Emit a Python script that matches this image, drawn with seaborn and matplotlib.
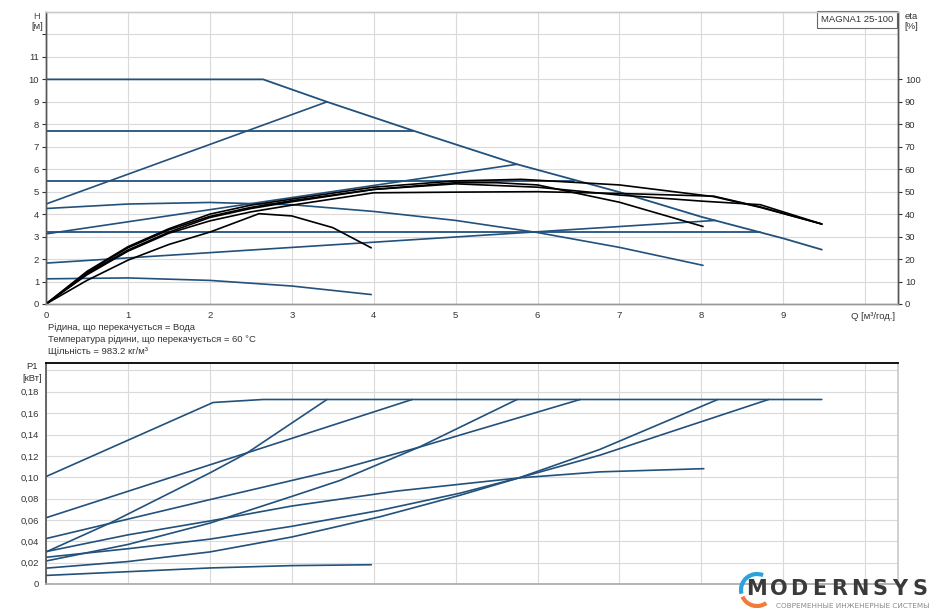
import seaborn as sns
import matplotlib.pyplot as plt
from matplotlib.patches import Arc
from matplotlib.transforms import blended_transform_factory

# ---- head curves, Q [m3/h] vs H [m] ----
MAX_Q = [0, 2.65, 3.43, 4.48, 5.75, 7.0, 8.0, 9.0, 9.47]
MAX_H = [10, 10, 9.0, 7.72, 6.22, 4.98, 3.88, 2.92, 2.42]

CONST_Q = [[0, 4.48], [0, 6.45], [0, 8.72]]
CONST_H = [[7.7, 7.7], [5.47, 5.47], [3.2, 3.2]]

PROP_Q = [[0, 3.43], [0, 5.75], [0, 8.17]]
PROP_H = [[4.45, 9.0], [3.12, 6.22], [1.82, 3.72]]

FIX_HI_Q = [0, 1, 2, 3, 4, 5, 6, 7, 8.02]
FIX_HI_H = [4.25, 4.45, 4.52, 4.42, 4.12, 3.72, 3.18, 2.52, 1.72]
FIX_LO_Q = [0, 1, 2, 3, 3.97]
FIX_LO_H = [1.12, 1.16, 1.05, 0.8, 0.42]

# ---- efficiency curves, eta [%] ----
ETA_Q = [
    [0, 0.5, 1, 1.5, 2, 2.6, 3, 3.5, 3.97],
    [0, 0.5, 1, 1.5, 2, 2.5, 3, 4, 5, 5.5, 6, 7, 8.02],
    [0, 0.5, 1, 1.5, 2, 2.5, 3, 4, 5, 5.8, 7, 8.15, 8.72, 9.47],
    [0, 0.5, 1, 1.5, 2, 2.5, 3, 4, 5, 6, 7, 8.15, 8.72, 9.47],
    [0, 0.5, 1, 1.5, 2, 2.5, 3, 4, 5, 6, 7, 8, 8.72, 9.47],
]
ETA_V = [
    [0, 10.5, 19.5, 26.5, 32, 40.2, 39.2, 34, 25],
    [0, 13.5, 24, 32, 38.5, 42.5, 45.5, 51, 54, 54, 53, 45.3, 34.5],
    [0, 14.5, 25.5, 33.5, 40, 44, 46.7, 52, 54.8, 55.5, 53, 47.8, 43, 35.6],
    [0, 13, 23.5, 31.5, 37, 41, 44, 49.5, 49.8, 50, 49.2, 48, 43.2, 35.6],
    [0, 14, 25, 33, 39, 43, 46, 51, 53.5, 52, 48.5, 45.8, 44.2, 35.6],
]

# ---- power curves, P1 [kW] ----
P_Q = [
    [0, 2.04, 2.65, 9.47],
    [0, 0.78, 2, 2.45, 3.43],
    [0, 4.47],
    [0, 1, 2, 3, 3.59, 4.55, 5.75],
    [0, 2, 3.59, 4.55, 6.52],
    [0, 1, 2, 3, 4.28, 5.05, 5.77, 6.76, 8.03],
    [0, 1, 2, 3, 4.08, 5.05, 5.77, 6.76, 8.2],
    [0, 1, 2, 3, 4.08, 5.05, 5.77, 6.76, 8.82],
    [0, 1, 2, 3, 3.97],
]
P_V = [
    [0.1006, 0.170, 0.1728, 0.1728],
    [0.030, 0.057, 0.104, 0.1225, 0.1728],
    [0.062, 0.1728],
    [0.0215, 0.037, 0.057, 0.082, 0.097, 0.128, 0.1728],
    [0.0425, 0.079, 0.1075, 0.128, 0.1728],
    [0.0303, 0.046, 0.059, 0.073, 0.087, 0.0934, 0.0993, 0.105, 0.108],
    [0.0148, 0.021, 0.030, 0.044, 0.063, 0.083, 0.0993, 0.126, 0.1728],
    [0.025, 0.033, 0.042, 0.054, 0.069, 0.085, 0.0993, 0.1206, 0.1728],
    [0.008, 0.0115, 0.015, 0.0172, 0.018],
]

H_TICKS = list(range(0, 13))
ETA_TICKS = list(range(0, 101, 10))
Q_TICKS = list(range(0, 11))
P_TICKS = [0, 0.02, 0.04, 0.06, 0.08, 0.10, 0.12, 0.14, 0.16, 0.18, 0.20]

INFO = [
    "Рідина, що перекачується = Вода",
    "Температура рідини, що перекачується = 60 °C",
    "Щільність = 983.2 кг/м³",
]

BLUE = "#22517c"
GRID = "#dadada"
TXT = "#333333"
FS = 6.8

sns.set_theme(style="whitegrid")
plt.rcParams["font.family"] = ["Liberation Sans", "DejaVu Sans"]
plt.rcParams["font.size"] = FS


def draw(ax, q, v, color, lw):
    sns.lineplot(x=q, y=v, ax=ax, color=color, linewidth=lw,
                 sort=False, estimator=None)


def style_axes(ax):
    ax.grid(True, color=GRID, linewidth=0.8)
    ax.tick_params(axis="both", labelsize=FS, colors=TXT, length=3,
                   width=0.8, pad=2, direction="out")
    ax.set_xlabel("")
    ax.set_ylabel("")


fig = plt.figure(figsize=(9.35, 6.12), dpi=100)
ax_h = fig.add_axes([0.0492, 0.5033, 0.9112, 0.4771])
ax_eta = ax_h.twinx()
ax_p = fig.add_axes([0.0492, 0.0458, 0.9112, 0.3611])

# head chart
draw(ax_h, MAX_Q, MAX_H, BLUE, 1.3)
for q, h in zip(CONST_Q, CONST_H):
    draw(ax_h, q, h, BLUE, 1.3)
for q, h in zip(PROP_Q, PROP_H):
    draw(ax_h, q, h, BLUE, 1.2)
draw(ax_h, FIX_HI_Q, FIX_HI_H, BLUE, 1.2)
draw(ax_h, FIX_LO_Q, FIX_LO_H, BLUE, 1.2)
for q, e in zip(ETA_Q, ETA_V):
    draw(ax_eta, q, e, "black", 1.2)

ax_h.set_xlim(0, 10.4)
ax_h.set_ylim(0, 13)
ax_eta.set_ylim(0, 130)
style_axes(ax_h)
style_axes(ax_eta)
ax_eta.grid(False)
ax_h.set_xticks(Q_TICKS)
ax_h.set_xticklabels([str(t) if t < 10 else "" for t in Q_TICKS])
ax_h.set_yticks(H_TICKS)
ax_h.set_yticklabels([str(t) if t < 12 else "" for t in H_TICKS])
ax_eta.set_yticks(ETA_TICKS)
ax_eta.set_yticklabels([str(t) for t in ETA_TICKS])

for ax in (ax_h, ax_eta):
    ax.spines["left"].set_color("#555555")
    ax.spines["right"].set_color("#555555")
    ax.spines["bottom"].set_color("#999999")
    ax.spines["top"].set_color("#cccccc")
    for s in ax.spines.values():
        s.set_linewidth(1.0)

xt = blended_transform_factory(ax_h.transData, ax_h.transAxes)
ax_h.text(10.1, -0.042, "Q [м³/год.]", transform=xt, ha="center",
          va="center", fontsize=FS, color=TXT)
ax_h.text(-0.0106, 0.983, "H", transform=ax_h.transAxes, ha="center",
          va="center", fontsize=FS, color="#5a5a2a")
ax_h.text(-0.0106, 0.949, "[м]", transform=ax_h.transAxes, ha="center",
          va="center", fontsize=FS, color=TXT)
ax_h.text(1.015, 0.983, "eta", transform=ax_h.transAxes, ha="center",
          va="center", fontsize=FS, color=TXT)
ax_h.text(1.015, 0.949, "[%]", transform=ax_h.transAxes, ha="center",
          va="center", fontsize=FS, color=TXT)
ax_h.text(0.952, 0.974, "MAGNA1 25-100", transform=ax_h.transAxes,
          ha="center", va="center", fontsize=FS, color=TXT, zorder=5,
          bbox=dict(boxstyle="square,pad=0.45", fc="white", ec="#666666",
                    lw=0.8))

# info text
for i, line in enumerate(INFO):
    fig.text(47.5 / 935, 1 - (327 + 12.5 * i) / 612, line, ha="left",
             va="center", fontsize=FS, color=TXT)

# power chart
for q, p in zip(P_Q, P_V):
    draw(ax_p, q, p, BLUE, 1.2)
ax_p.set_xlim(0, 10.4)
ax_p.set_ylim(0, 0.207)
style_axes(ax_p)
ax_p.set_xticks(Q_TICKS)
ax_p.set_xticklabels([])
ax_p.tick_params(axis="x", length=0)
ax_p.set_yticks(P_TICKS)
ax_p.set_yticklabels(["0" if t == 0 else ("" if t > 0.19 else
                      f"{t:.2f}".replace(".", ",")) for t in P_TICKS])
ax_p.spines["left"].set_color("#555555")
ax_p.spines["top"].set_color("black")
ax_p.spines["top"].set_linewidth(1.3)
ax_p.spines["bottom"].set_color("#aaaaaa")
ax_p.spines["right"].set_color("#cccccc")
ax_p.text(-0.0168, 0.983, "P1", transform=ax_p.transAxes, ha="center",
          va="center", fontsize=FS, color=TXT)
ax_p.text(-0.0168, 0.931, "[кВт]", transform=ax_p.transAxes, ha="center",
          va="center", fontsize=FS, color=TXT)

# logo
letters = "MODERNSYS"
xs = [756, 779, 799, 819, 839, 860, 880, 900, 920]
for ch, x in zip(letters, xs):
    fig.text(x / 935, 1 - 589 / 612, ch, ha="center", va="center",
             fontsize=15, fontweight="bold", color="#3a3a3a",
             family="DejaVu Sans")
fig.text(776 / 935, 1 - 606 / 612, "СОВРЕМЕННЫЕ ИНЖЕНЕРНЫЕ СИСТЕМЫ",
         ha="left", va="center", fontsize=5.2, color="#8a8a8a",
         family="DejaVu Sans")
r = 16
cx, cy = 757, 590
fig.add_artist(Arc((cx / 935, 1 - cy / 612), 2 * r / 935, 2 * r / 612,
                   theta1=75, theta2=200, color="#29a3dc", lw=3,
                   transform=fig.transFigure))
fig.add_artist(Arc((cx / 935, 1 - cy / 612), 2 * r / 935, 2 * r / 612,
                   theta1=215, theta2=295, color="#f07c3a", lw=3,
                   transform=fig.transFigure))

fig.savefig("out.png", dpi=100)
